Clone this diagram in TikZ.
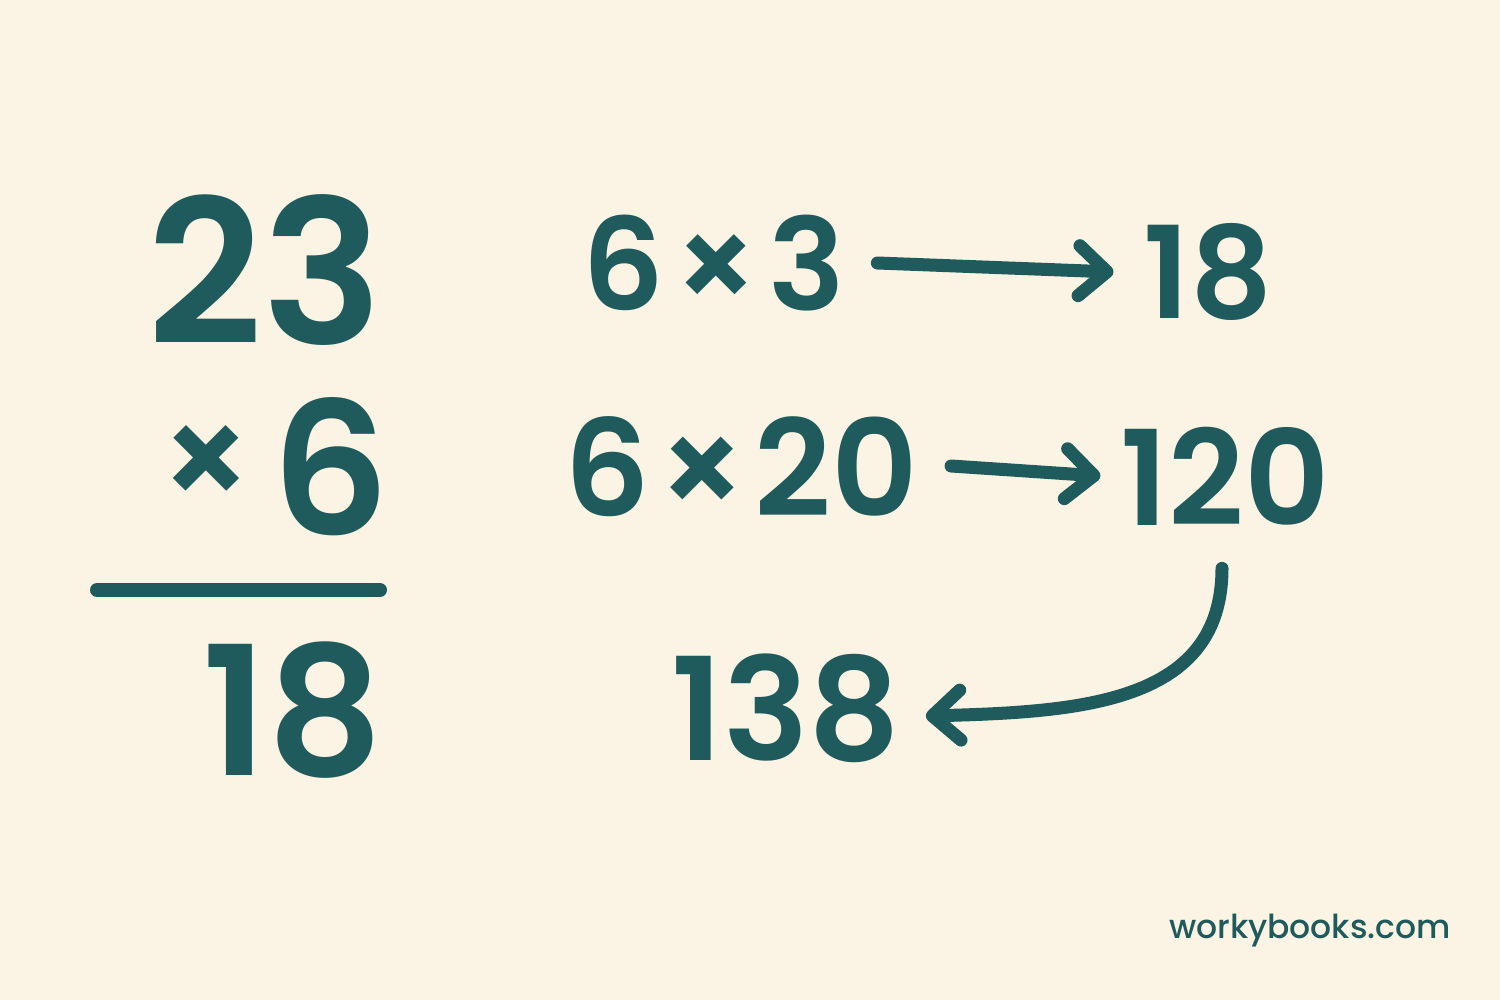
\documentclass[tikz,border=0pt]{standalone}
\usepackage{fontspec}
\setmainfont{Poppins}[UprightFont={* Medium}, BoldFont={* SemiBold}]
\usetikzlibrary{arrows.meta}
\definecolor{ink}{HTML}{1F5B5C}
\definecolor{paper}{HTML}{FBF4E4}
\newcommand\fsz[1]{\fontsize{#1}{#1}\selectfont}
\newcommand\tms{\hspace{0.07em}×\hspace{0.07em}}
\newcommand\tmsn{\hspace{0.055em}×\hspace{0.055em}}
\begin{document}
\begin{tikzpicture}[x=1pt,y=-1pt,
  num/.style={text=ink, inner sep=0pt},
  arr/.style={draw=ink, line width=13pt, line cap=round, -{Straight Barb[round,length=28pt,width=50pt]}},
  rule/.style={draw=ink, line width=14pt, line cap=round}]
\fill[paper] (0,0) rectangle (1500,1000);
\useasboundingbox (0,0) rectangle (1500,1000);
% left column
\node[num, font=\fsz{201}\bfseries] (top) at (265,270) {23};
\node[num, font=\fsz{140}\bfseries] (times) at (206,467) {×};
\node[num, font=\fsz{185}\bfseries] (six) at (331,467) {6};
\coordinate (r1) at (97,590);
\coordinate (r2) at (380,590);
\draw[rule] (r1) -- (r2);
\node[num, font=\fsz{180}\bfseries] (res) at (293,710) {18};
% right column
\node[num, font=\fsz{128}\bfseries] (m1) at (714,263) {6\tms3};
\node[num, font=\fsz{128}\bfseries] (p1) at (1208,272) {18};
\node[num, font=\fsz{134}\bfseries] (m2) at (741,467) {6\tmsn20};
\node[num, font=\fsz{132}\bfseries] (p2) at (1225,476) {120};
\node[num, font=\fsz{143}\bfseries] (sum) at (786,708) {138};
\draw[arr] ([xshift=32pt,yshift=0pt]m1.east) -- ([xshift=-30pt,yshift=0pt]p1.west);
\draw[arr] ([xshift=33pt,yshift=1pt]m2.east) -- ([xshift=-20pt,yshift=0pt]p2.west);
\draw[arr] ([xshift=-3pt,yshift=-43pt]p2.south) .. controls +(0,135) and (1080,712) .. ([xshift=25pt,yshift=-8pt]sum.east);
% watermark
\node[text=ink, inner sep=0pt, font=\fsz{33}] (wm) at (1310,931) {workybooks.com};
\end{tikzpicture}
\end{document}
